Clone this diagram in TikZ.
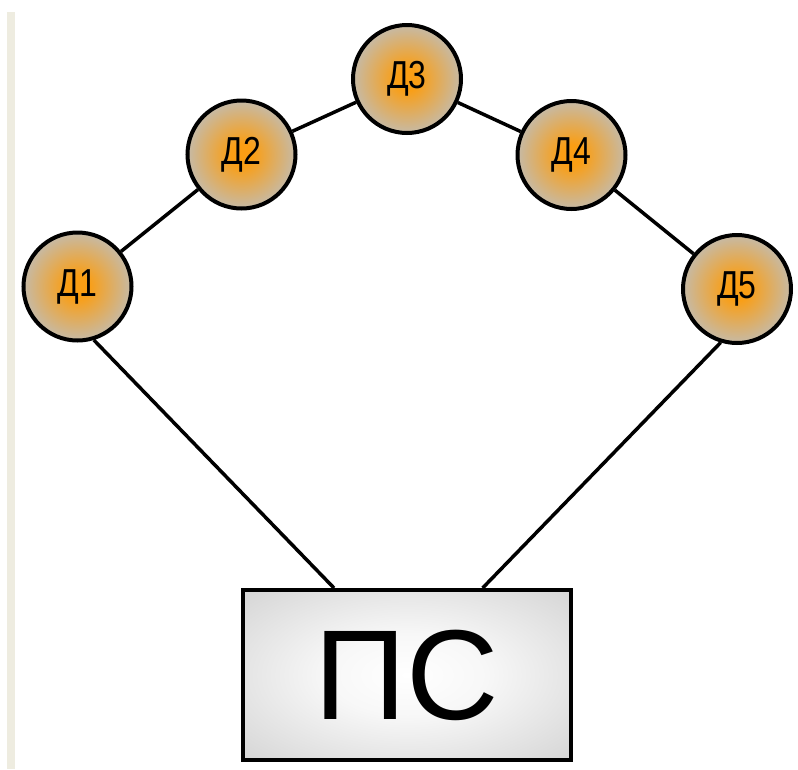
\documentclass[tikz,border=0pt]{standalone}
\usepackage{fontspec}
\usepackage{graphicx}
\setmainfont{Liberation Sans}
\definecolor{dorange}{RGB}{250,158,20}
\definecolor{dtan}{RGB}{198,186,166}
\definecolor{boxgray}{RGB}{192,192,192}
\definecolor{barbeige}{RGB}{238,236,224}
\pgfdeclareradialshading{dshade}{\pgfpoint{0bp}{0bp}}{color(0bp)=(dorange); color(5bp)=(dorange); color(25bp)=(dtan); color(50bp)=(dtan)}
\pgfdeclareradialshading{boxshade}{\pgfpoint{0bp}{0bp}}{color(0bp)=(white); color(12bp)=(white!97!black); color(50bp)=(boxgray)}
\tikzset{
  dnode/.style={circle, draw=black, line width=4pt, minimum size=108pt, inner sep=0pt,
    shading=dshade, font=\fontsize{39}{39}\selectfont},
  psbox/.style={rectangle, draw=black, line width=4pt, minimum width=328pt, minimum height=170pt,
    inner sep=0pt, shading=boxshade, font=\fontsize{128}{128}\selectfont},
  link/.style={draw=black, line width=3.5pt}
}
\newcommand{\dlabel}[1]{\scalebox{0.82}[1]{#1}}
\begin{document}
\begin{tikzpicture}[x=1pt,y=-1pt]
  \useasboundingbox (0,0) rectangle (798,769);
  \fill[white] (0,0) rectangle (798,769);
  \fill[barbeige] (7,12) rectangle (15,769);
  \node[dnode] (d1) at (77.5,286.5) {\dlabel{Д1}};
  \node[dnode] (d2) at (241.5,154.5) {\dlabel{Д2}};
  \node[dnode] (d3) at (407,79) {\dlabel{Д3}};
  \node[dnode] (d4) at (571.5,155) {\dlabel{Д4}};
  \node[dnode] (d5) at (737,289) {\dlabel{Д5}};
  \node[psbox] (ps) at (407,675) {ПС};
  \draw[link] (d1) -- (d2);
  \draw[link] (d2) -- (d3);
  \draw[link] (d3) -- (d4);
  \draw[link] (d4) -- (d5);
  \draw[link] (d1.-73) -- (ps.130);
  \draw[link] (d5.-107) -- (ps.49);
\end{tikzpicture}
\end{document}
